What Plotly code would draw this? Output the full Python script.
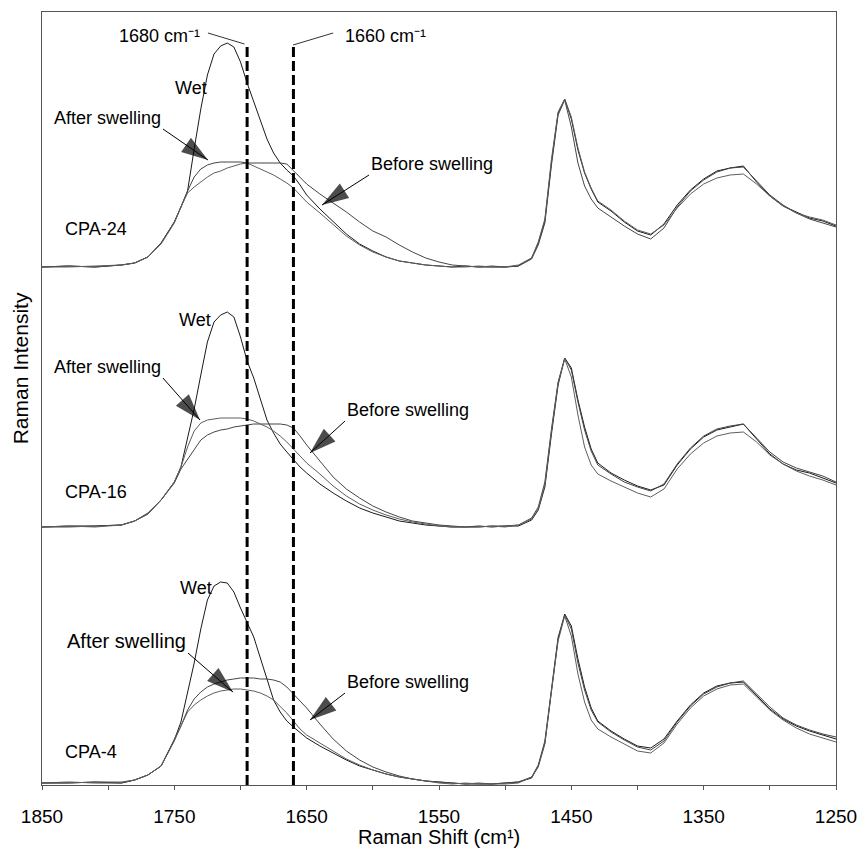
import plotly.graph_objects as go

# Raman shift grid (cm-1)
shift = [1850, 1830, 1810, 1790, 1780, 1770, 1760, 1750, 1745, 1740, 1735, 1730, 1725, 1720, 1715,
         1710, 1705, 1700, 1695, 1690, 1685, 1680, 1675, 1670, 1665, 1660, 1655, 1650, 1640, 1630,
         1620, 1610, 1600, 1590, 1580, 1570, 1560, 1550, 1540, 1530, 1520, 1510, 1500, 1490, 1480,
         1475, 1470, 1465, 1460, 1455, 1450, 1445, 1440, 1435, 1430, 1420, 1410, 1400, 1390, 1380,
         1370, 1360, 1350, 1340, 1330, 1320, 1310, 1300, 1290, 1280, 1270, 1260, 1250]

# ---- CPA-24 ----
cpa24_wet = [0, 1, 0, 2, 4, 10, 24, 45, 60, 76, 118, 158, 192, 213, 221,
             224, 220, 205, 184, 165, 145, 128, 114, 104, 97, 91, 82, 72, 58, 45,
             33, 23, 16, 10, 6, 4, 2, 1, 0, 1, 0, 0, 0, 1, 9,
             24, 46, 105, 154, 168, 148, 117, 94, 78, 65, 56, 45, 36, 32, 43,
             62, 77, 88, 96, 99, 101, 85, 71, 61, 55, 49, 46, 41]
cpa24_before = [0, 1, 0, 2, 4, 10, 24, 45, 60, 76, 90, 98, 102, 104, 105,
                105, 105, 105, 104, 104, 104, 104, 104, 104, 103, 96, 89, 83, 73, 64,
                55, 45, 36, 30, 22, 15, 9, 5, 2, 1, 0, 1, 0, 1, 8,
                22, 44, 102, 152, 167, 140, 104, 81, 68, 59, 50, 41, 33, 28, 39,
                60, 76, 87, 95, 99, 100, 86, 72, 62, 54, 48, 44, 40]
cpa24_after = [0, 0, 1, 2, 4, 10, 23, 44, 60, 74, 80, 85, 90, 94, 96,
               99, 101, 103, 104, 101, 98, 95, 92, 88, 84, 79, 72, 65, 54, 42,
               31, 22, 15, 10, 6, 4, 2, 1, 0, 0, 1, 0, 0, 2, 9,
               25, 48, 108, 155, 168, 150, 119, 95, 79, 66, 57, 46, 37, 33, 42,
               59, 73, 83, 89, 92, 93, 83, 71, 61, 54, 50, 47, 42]

# ---- CPA-16 ----
cpa16_wet = [0, 1, 1, 2, 6, 13, 27, 45, 60, 88, 118, 152, 185, 205, 212,
             215, 210, 190, 166, 149, 128, 107, 94, 83, 75, 67, 60, 54, 43, 34,
             26, 19, 14, 10, 6, 4, 2, 1, 0, 0, 1, 0, 1, 1, 7,
             17, 40, 93, 142, 169, 159, 127, 100, 78, 64, 54, 47, 41, 37, 42,
             62, 78, 90, 97, 100, 103, 88, 73, 63, 57, 54, 49, 44]
cpa16_after = [0, 1, 0, 2, 6, 13, 27, 45, 60, 80, 96, 104, 107, 108, 109,
               109, 109, 109, 108, 106, 103, 100, 96, 91, 85, 78, 71, 64, 53, 41,
               31, 23, 17, 12, 8, 5, 3, 1, 0, 0, 0, 1, 0, 2, 8,
               18, 42, 96, 144, 168, 150, 112, 80, 62, 53, 46, 40, 34, 30, 38,
               58, 73, 84, 91, 94, 95, 85, 72, 63, 56, 51, 47, 42]
cpa16_before = [0, 0, 1, 2, 6, 14, 27, 44, 58, 68, 78, 87, 92, 95, 97,
                98, 100, 101, 102, 103, 103, 103, 103, 103, 102, 99, 91, 82, 66, 50,
                38, 29, 21, 15, 10, 6, 4, 2, 1, 0, 0, 1, 1, 2, 9,
                20, 45, 98, 145, 169, 157, 125, 97, 76, 62, 53, 45, 40, 36, 43,
                63, 79, 91, 98, 101, 103, 89, 75, 65, 59, 55, 51, 45]

# ---- CPA-4 ----
cpa4_wet = [1, 1, 2, 1, 4, 9, 18, 44, 62, 90, 121, 155, 184, 198, 202,
            201, 192, 176, 161, 147, 126, 104, 84, 72, 63, 57, 51, 46, 38, 31,
            24, 18, 14, 10, 7, 5, 3, 2, 1, 0, 0, 0, 1, 2, 6,
            18, 41, 95, 145, 170, 158, 125, 97, 76, 63, 53, 45, 38, 36, 45,
            63, 79, 91, 98, 101, 102, 89, 75, 65, 58, 53, 49, 45]
cpa4_before = [1, 2, 1, 1, 4, 9, 18, 44, 58, 74, 85, 92, 97, 100, 102,
               104, 105, 106, 106, 106, 105, 105, 104, 102, 97, 90, 84, 76, 60, 45,
               33, 24, 17, 12, 8, 5, 3, 2, 1, 0, 1, 0, 1, 2, 7,
               19, 43, 98, 147, 169, 155, 121, 94, 74, 62, 52, 44, 37, 34, 43,
               62, 78, 90, 97, 101, 103, 90, 77, 66, 59, 54, 50, 47]
cpa4_after = [1, 1, 2, 2, 4, 9, 18, 43, 58, 72, 79, 84, 88, 91, 93,
              94, 95, 95, 94, 93, 91, 88, 84, 78, 71, 63, 55, 49, 41, 33,
              25, 19, 14, 10, 7, 5, 3, 1, 0, 1, 0, 0, 0, 1, 7,
              17, 40, 93, 143, 168, 148, 110, 82, 64, 55, 47, 40, 33, 31, 41,
              60, 76, 88, 95, 99, 100, 87, 74, 64, 56, 50, 46, 42]

samples = ["CPA-24", "CPA-16", "CPA-4"]
offsets = [518, 258, 1]
spectra = {
    "CPA-24": {"Wet": cpa24_wet, "Before swelling": cpa24_before, "After swelling": cpa24_after},
    "CPA-16": {"Wet": cpa16_wet, "Before swelling": cpa16_before, "After swelling": cpa16_after},
    "CPA-4": {"Wet": cpa4_wet, "Before swelling": cpa4_before, "After swelling": cpa4_after},
}
ref_lines = [1695, 1660]
ref_labels = ["1680 cm\u207b\u00b9", "1660 cm\u207b\u00b9"]
major_ticks = [1850, 1750, 1650, 1550, 1450, 1350, 1250]
major_labels = ["1850", "1750", "1650", "1550", "1450", "1350", "1250"]
minor_ticks = [1800, 1700, 1600, 1500, 1400, 1300]

# pointer arrows (tail -> tip), in axis units
arrow_tail_x = [1758.6, 1602.9, 1758.6, 1621.0, 1739.7, 1621.0]
arrow_tail_y = [656, 610, 407, 364, 132, 92]
arrow_tip_x = [1724.6, 1638.4, 1730.6, 1647.5, 1705.7, 1647.5]
arrow_tip_y = [625, 580, 365, 332, 93, 65]

colors = {"Wet": "#1a1a1a", "Before swelling": "#454545", "After swelling": "#5e5e5e"}

fig = go.Figure()
for name, off in zip(samples, offsets):
    for cond, vals in spectra[name].items():
        fig.add_trace(go.Scatter(
            x=shift, y=[v + off for v in vals], mode="lines",
            name=f"{name} {cond}", line=dict(color=colors[cond], width=1),
            showlegend=False, hoverinfo="skip"))

for tx0, ty0, tx1, ty1 in zip(arrow_tail_x, arrow_tail_y, arrow_tip_x, arrow_tip_y):
    fig.add_trace(go.Scatter(
        x=[tx0, tx1], y=[ty0, ty1], mode="lines+markers",
        line=dict(color="black", width=1, backoff=0),
        marker=dict(symbol="arrow", size=[0, 28], angleref="previous", color="black",
                    line=dict(width=0)),
        showlegend=False, hoverinfo="skip"))

FONT = "Arial, 'Liberation Sans', sans-serif"

# reference dashed lines
for xv in ref_lines:
    fig.add_shape(type="line", x0=xv, x1=xv, y0=0, y1=741, xref="x", yref="y",
                  line=dict(color="black", width=3, dash="10px,4px"))

# leader lines for reference labels
fig.add_shape(type="line", x0=1724.6, y0=752, x1=1697, y1=741, xref="x", yref="y",
              line=dict(color="#333", width=1))
fig.add_shape(type="line", x0=1660.3, y0=740, x1=1630, y1=752, xref="x", yref="y",
              line=dict(color="#333", width=1))

ann = []
ann.append(dict(x=1729, y=749, text=ref_labels[0], xanchor="right", yanchor="middle",
                showarrow=False, font=dict(size=18)))
ann.append(dict(x=1622.5, y=749, text=ref_labels[1], xanchor="left", yanchor="middle",
                showarrow=False, font=dict(size=18)))

labels = [
    # text, x, y, xanchor, size
    ("Wet", 1751, 697, "left", 18), ("CPA-24", 1834.1, 556, "left", 18),
    ("Wet", 1748, 465, "left", 18), ("CPA-16", 1834.1, 293, "left", 18),
    ("Wet", 1747.2, 197, "left", 18), ("CPA-4", 1834.1, 33, "left", 18),
    ("After swelling", 1758.6, 667, "right", 18), ("Before swelling", 1602.9, 621, "left", 18),
    ("After swelling", 1758.6, 418, "right", 18), ("Before swelling", 1621.0, 375, "left", 18),
    ("After swelling", 1739.7, 144, "right", 20), ("Before swelling", 1621.0, 103, "left", 18),
]
for t, xx, yy, xa, sz in labels:
    ann.append(dict(x=xx, y=yy, text=t, xanchor=xa, yanchor="middle",
                    showarrow=False, font=dict(size=sz)))

# axis titles
ann.append(dict(x=0, y=0.539, xref="paper", yref="paper", xshift=-22, text="Raman Intensity",
                textangle=-90, showarrow=False, font=dict(size=21),
                xanchor="center", yanchor="middle"))
ann.append(dict(x=0.5, y=0, xref="paper", yref="paper", yshift=-52,
                text="Raman Shift (cm\u00b9)", showarrow=False, font=dict(size=20),
                xanchor="center", yanchor="middle"))

fig.update_layout(
    width=859, height=849,
    margin=dict(l=42, r=23, t=12, b=64),
    paper_bgcolor="white", plot_bgcolor="white",
    font=dict(family=FONT, color="black"),
    annotations=ann,
    showlegend=False,
    xaxis=dict(
        range=[1850, 1250], tickvals=major_ticks, ticktext=major_labels,
        ticks="outside", ticklen=4, tickcolor="#555", tickwidth=1,
        minor=dict(tickvals=minor_ticks, ticks="outside", ticklen=4, tickcolor="#555",
                   tickwidth=1, showgrid=False),
        showline=True, mirror=True, linecolor="#555", linewidth=1,
        showgrid=False, zeroline=False, automargin=False,
        tickfont=dict(size=19), ticklabelstandoff=10,
    ),
    yaxis=dict(
        range=[0, 773], showticklabels=False, ticks="",
        showline=True, mirror=True, linecolor="#555", linewidth=1,
        showgrid=False, zeroline=False, automargin=False,
    ),
)

fig.write_html("out.html")
